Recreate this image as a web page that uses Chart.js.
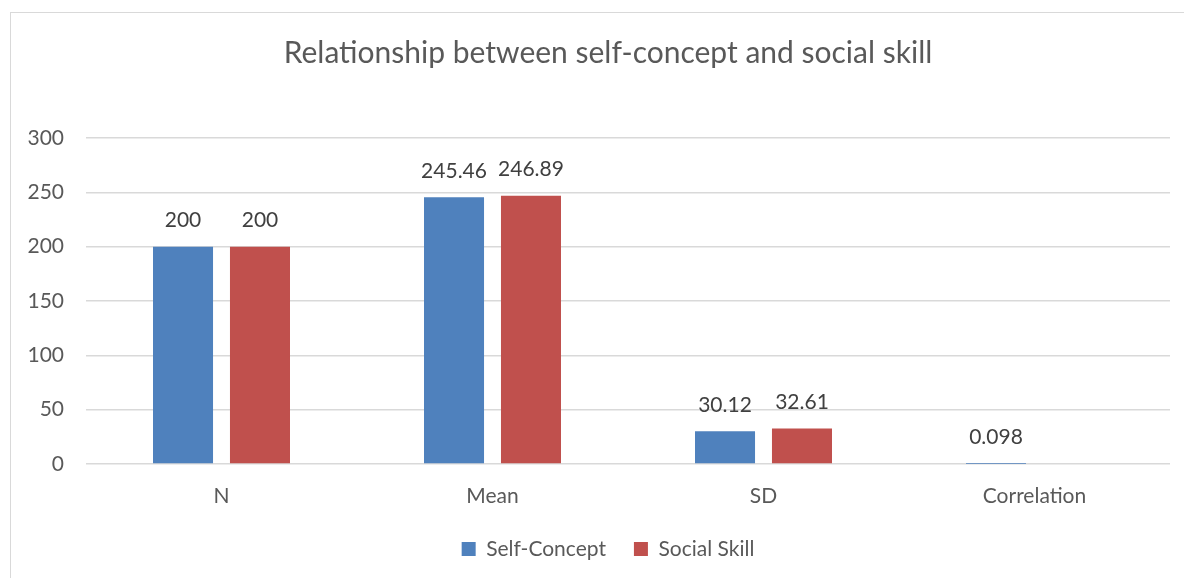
<!DOCTYPE html>
<html>
<head>
<meta charset="utf-8">
<script src="https://cdn.jsdelivr.net/npm/chart.js@4.4.0/dist/chart.umd.min.js"></script>
<style>
  body { margin: 0; background: #fff; }
  #wrap { position: relative; width: 1184px; height: 578px; overflow: hidden; }
  #frame { position: absolute; left: 10px; top: 12px; width: 1300px; height: 700px;
           border-left: 1px solid #d9d9d9; border-top: 1px solid #d9d9d9; }
  canvas { position: absolute; left: 0; top: 0; }
</style>
</head>
<body>
<div id="wrap">
  <div id="frame"></div>
  <canvas id="chart" width="1184" height="578"></canvas>
</div>
<script>
let categories = ["N", "Mean", "SD", "Correlation"];
let selfConcept = [200, 245.46, 30.12, 0.098];
let socialSkill = [200, 246.89, 32.61, null];
let yTicks = [0, 50, 100, 150, 200, 250, 300];

let fontName = "Lato, 'Open Sans', sans-serif";

// labels above bars
let barLabels = {
    id: "barLabels",
    afterDatasetsDraw(chart){
        let ctx = chart.ctx;
        ctx.save();
        ctx.font = "21px " + fontName;
        ctx.fillStyle = "#404040";
        ctx.textAlign = "center";
        ctx.textBaseline = "bottom";
        chart.data.datasets.forEach((ds, i) => {
            let meta = chart.getDatasetMeta(i);
            meta.data.forEach((bar, j) => {
                if(ds.data[j] == null) return;
                ctx.fillText(String(ds.data[j]), bar.x, bar.y - 16);
            });
        });
        ctx.restore();
    }
};

let ctx = document.getElementById("chart").getContext("2d");

new Chart(ctx, {
    type: "bar",
    data: {
        labels: categories,
        datasets: [{
            label: "Self-Concept",
            data: selfConcept,
            backgroundColor: "#4f81bd",
            categoryPercentage: 0.568,
            barPercentage: 0.78
        }, {
            label: "Social Skill",
            data: socialSkill,
            backgroundColor: "#c0504d",
            categoryPercentage: 0.568,
            barPercentage: 0.78
        }]
    },
    options: {
        responsive: false,
        animation: false,
        // negative right padding + empty right axis: legend sits a bit right of centre like the original
        layout: { padding: { left: 10, right: -22, top: 12, bottom: 8.5 } },
        plugins: {
            title: {
                display: true,
                text: "Relationship between self-concept and social skill",
                color: "#595959",
                font: { family: fontName, size: 30, weight: "normal" },
                padding: { top: 23, bottom: 67 }
            },
            legend: {
                position: "bottom",
                labels: {
                    color: "#595959",
                    font: { family: fontName, size: 21 },
                    boxWidth: 14,
                    boxHeight: 14,
                    padding: 28
                }
            },
            tooltip: { enabled: false }
        },
        scales: {
            x: {
                afterFit: (s) => { s.height = 46.5; },
                grid: { display: false },
                border: { display: false },
                ticks: { color: "#595959", font: { family: fontName, size: 21 }, padding: 12 }
            },
            y: {
                min: 0,
                max: 300,
                afterBuildTicks: (s) => { s.ticks = yTicks.map(v => ({ value: v })); },
                afterFit: (s) => { s.width = 76; },
                grid: { color: "#d9d9d9", lineWidth: 1.5, drawTicks: false },
                border: { display: false },
                ticks: { color: "#595959", font: { family: fontName, size: 21 }, padding: 22 }
            },
            spacer: {
                type: "linear",
                position: "right",
                afterFit: (s) => { s.width = 36; },
                grid: { display: false },
                border: { display: false },
                ticks: { display: false }
            }
        }
    },
    plugins: [barLabels]
});
</script>
</body>
</html>
